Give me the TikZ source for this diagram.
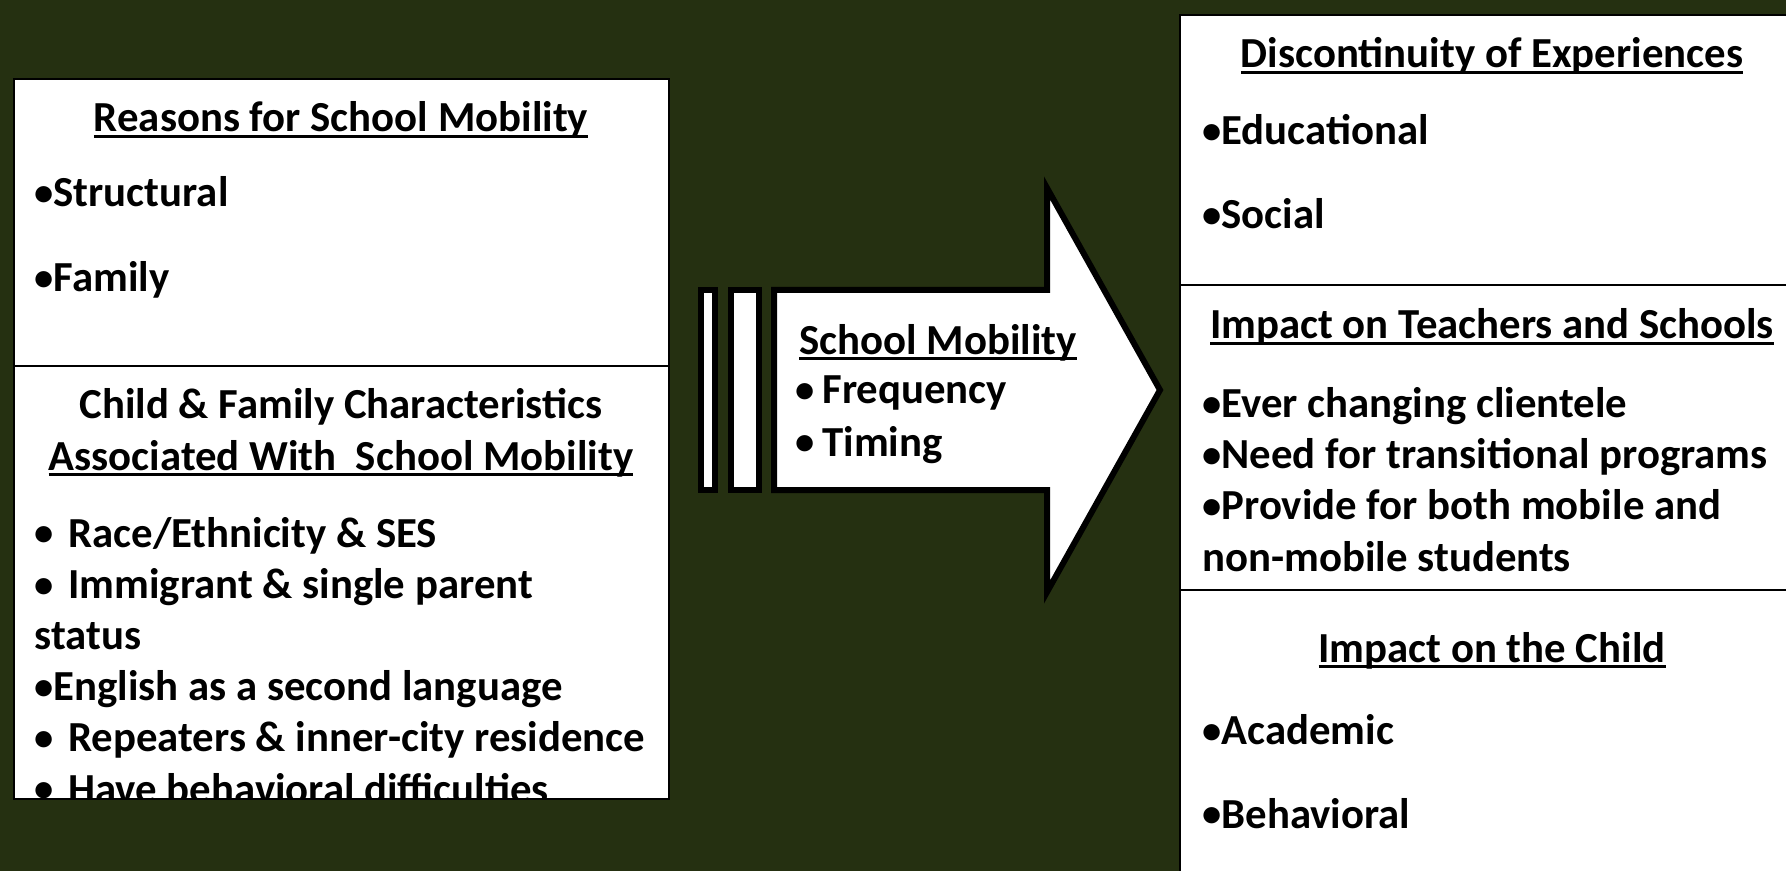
\documentclass[tikz,border=0pt]{standalone}
\usepackage{fontspec}
\setmainfont{Carlito}
\usetikzlibrary{arrows.meta}
\definecolor{slidegreen}{RGB}{37,48,17}
\tikzset{
panel/.style={draw=black, line width=1pt, fill=white},
bigarrow/.style={draw=black, line width=3pt, fill=white, line join=miter},
heading/.style={anchor=base, inner sep=0pt, align=center},
itemlist/.style={anchor=base west, inner sep=0pt, align=left},
}
\tikzstyle{every node}=[font=\fontsize{21.4}{25.6}\selectfont\bfseries]
\newcommand{\dotb}{\raisebox{0.6pt}{\scalebox{0.9}{•}}}
\newcommand{\wbul}{\makebox[17pt][l]{\dotb}}
\newcommand{\abul}{\makebox[13.5pt][l]{\dotb}}
\newcommand{\uln}[1]{\setbox0\hbox{#1}\leavevmode\rlap{\rule[-3.2pt]{\wd0}{1.7pt}}\box0}

\begin{document}
\begin{tikzpicture}[x=0.5pt, y=-0.5pt]
        \useasboundingbox (0,0) rectangle (1786,871);
        \clip (0,0) rectangle (1786,871);
        \fill[slidegreen] (0,0) rectangle (1786,871);

        % left panel (multi-line nodes sit on their last baseline)
        \draw[panel] (14,79) rectangle (669,799);
        \draw[line width=1pt] (14,366) -- (669,366);
        \node[heading] (reasonsTitle) at (341,132) {\uln{Reasons for School Mobility}};
        \node[itemlist] (reasonsList) at (34,292) {\dotb Structural\\[16.9pt]\dotb Family};
        \node[heading] (childTitle) at (341,470)
        {Child \& Family Characteristics\\\uln{Associated With\ \ School Mobility}};
        \begin{scope}
            \clip (14,79) rectangle (669,799);
            \node[itemlist] (childList) at (34,803)
            {\wbul Race/Ethnicity \& SES\\\wbul Immigrant \& single parent\\status\\
             \dotb English as a second language\\\wbul Repeaters \& inner-city residence\\
             \wbul Have behavioral difficulties};
        \end{scope}
        \draw[line width=1pt] (14,799) -- (669,799);

        % arrow
        \draw[bigarrow] (701,290) rectangle (715,490);
        \draw[bigarrow] (731,290) rectangle (759,490);
        \draw[bigarrow] (774,290) -- (1047,290) -- (1047,188) -- (1160,390)
        -- (1047,592) -- (1047,490) -- (774,490) -- cycle;
        \node[heading] (mobTitle) at (938,354) {\uln{School Mobility}};
        \node[itemlist] (mobList) at (795,456) {\abul Frequency\\[0.5pt]\abul Timing};

        % right panel
        \draw[panel] (1180,15) rectangle (1820,900);
        \draw[line width=1pt] (1180,285) -- (1820,285);
        \draw[line width=1pt] (1180,590) -- (1820,590);
        \node[heading] (discTitle) at (1492,68) {\uln{Discontinuity of Experiences}};
        \node[itemlist] (discList) at (1202,229) {\dotb Educational\\[16.5pt]\dotb Social};
        \node[heading] (teachTitle) at (1492,339) {\uln{Impact on Teachers and Schools}};
        \node[itemlist] (teachList) at (1202,571)
        {\dotb Ever changing clientele\\\dotb Need for transitional programs\\
         \dotb Provide for both mobile and\\non-mobile students};
        \node[heading] (impactTitle) at (1492,662) {\uln{Impact on the Child}};
        \node[itemlist] (impactList) at (1202,828) {\dotb Academic\\[16pt]\dotb Behavioral};
\end{tikzpicture}
\end{document}
